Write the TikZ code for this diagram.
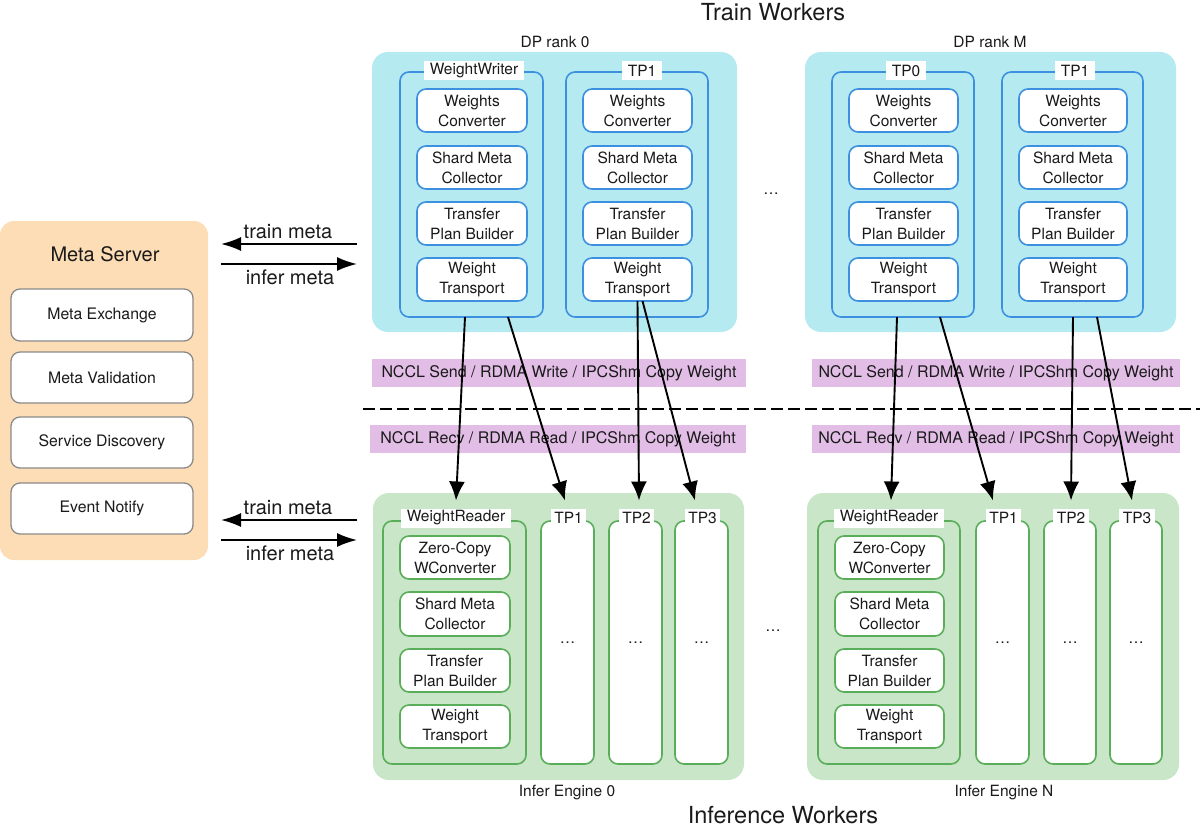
\documentclass[tikz,border=0pt]{standalone}
\usepackage{fontspec}
\setmainfont{TeX Gyre Heros}
\usetikzlibrary{arrows.meta}
\definecolor{cyanbg}{HTML}{B5EBF0}
\definecolor{blueb}{HTML}{3D8FE0}
\definecolor{greenbg}{HTML}{C9E7C8}
\definecolor{greenb}{HTML}{5AAE5A}
\definecolor{orangebg}{HTML}{FDDDB5}
\definecolor{purplebg}{HTML}{E2BDE6}
\definecolor{grayb}{HTML}{8A8A8A}
\definecolor{txt}{HTML}{1A1A1A}
\newcommand{\fsub}{\fontsize{15.5}{20}\selectfont}
\newcommand{\fmeta}{\fontsize{15.8}{18}\selectfont}
\newcommand{\fbig}{\fontsize{20}{22}\selectfont}
\newcommand{\ftitle}{\fontsize{23.5}{26}\selectfont}
\newcommand{\fbar}{\fontsize{16}{19}\selectfont}
\newcommand{\bxn}[7]{\node[#2, minimum width={(#5)-(#3)}, minimum height={(#6)-(#4)}, anchor=north west] (#1) at ({#3},{#4}) {#7};}
\begin{document}
\begin{tikzpicture}[x=1pt,y=-1pt,
  base/.style={inner sep=0pt, outer sep=0pt, text=txt, align=center},
  trainouter/.style={base, fill=cyanbg, rounded corners=16pt},
  traininner/.style={base, draw=blueb, line width=1.6pt, rounded corners=9pt},
  trainsub/.style={base, draw=blueb, fill=white, line width=1.6pt, rounded corners=9pt, font=\fsub},
  inferouter/.style={base, fill=greenbg, rounded corners=16pt},
  inferinner/.style={base, draw=greenb, line width=1.6pt, rounded corners=9pt},
  infersub/.style={base, draw=greenb, fill=white, line width=1.6pt, rounded corners=9pt, font=\fsub},
  metaouter/.style={base, fill=orangebg, rounded corners=14pt},
  metasub/.style={base, draw=grayb, fill=white, line width=1.3pt, rounded corners=9pt, font=\fmeta},
  tablabel/.style={base, fill=white, inner xsep=5.5pt, minimum height=19pt, font=\fsub},
  barbox/.style={base, fill=purplebg, font=\fbar},
  plain/.style={base, font=\fsub},
  xfer/.style={draw=black, line width=1.9pt, -{Latex[length=19pt,width=16pt]}},
  metaarrow/.style={draw=black, line width=1.9pt, -{Latex[length=20pt,width=14pt]}},
  divider/.style={draw=black, line width=2.2pt, dash pattern=on 12pt off 5pt}
]
\useasboundingbox (0,0) rectangle (1200,832);

% titles
\node[base, font=\ftitle] (traintitle) at (773,12) {Train Workers};
\node[base, font=\ftitle] (infertitle) at (783,815) {Inference Workers};
\node[plain] (dp0cap) at (555,42) {DP rank 0};
\node[plain] (dpmcap) at (990,42) {DP rank M};
\node[plain] (ie0cap) at (567,793) {Infer Engine 0};
\node[plain] (ienCap) at (1004,793) {Infer Engine N};
\node[plain] (dotsA) at (771,194) {…};
\node[plain] (dotsB) at (773,631) {…};

% train outer boxes
\bxn{dp0}{trainouter}{372}{52}{737}{332}{}
\bxn{dpm}{trainouter}{805}{52}{1176}{332}{}

% train inner columns
\foreach \nm/\xa/\xb/\lab/\lx in {dpaw/400/543/WeightWriter/474, dpat/566/708/TP1/642, dpmt/832/974/TP0/906, dpmu/1002/1143/TP1/1075} {
  \bxn{\nm}{traininner}{\xa}{72}{\xb}{317}{}
  \foreach \i/\ya/\yb/\t in {1/89/132/{Weights\\Converter}, 2/146/189/{Shard Meta\\Collector}, 3/202/245/{Transfer\\Plan Builder}, 4/258/301/{Weight\\Transport}} {
    \bxn{\nm-\i}{trainsub}{\xa+17}{\ya}{\xb-16}{\yb}{\t}
  }
  \node[tablabel] (\nm-lab) at (\lx,71) {\lab};
}

% infer outer boxes
\bxn{ie0}{inferouter}{373}{493}{744}{780}{}
\bxn{ien}{inferouter}{807}{493}{1179}{780}{}

% weight reader columns
\foreach \nm/\xa/\xb/\lx in {wr0/383/526/456, wrn/818/960/889} {
  \bxn{\nm}{inferinner}{\xa}{521}{\xb}{764}{}
  \foreach \i/\ya/\yb/\t in {1/536/579/{Zero-Copy\\WConverter}, 2/592/636/{Shard Meta\\Collector}, 3/649/692/{Transfer\\Plan Builder}, 4/705/748/{Weight\\Transport}} {
    \bxn{\nm-\i}{infersub}{\xa+17}{\ya}{\xb-16}{\yb}{\t}
  }
  \node[tablabel] (\nm-lab) at (\lx,518) {WeightReader};
}

% infer TP columns
\foreach \nm/\xa/\xb/\lab in {e0a/541/594/TP1, e0b/609/662/TP2, e0c/675/728/TP3, ena/976/1029/TP1, enb/1044/1096/TP2, enc/1110/1162/TP3} {
  \bxn{\nm}{infersub}{\xa}{521}{\xb}{764}{…}
  \node[tablabel, inner xsep=3.5pt] (\nm-lab) at ({(\xa+\xb)/2+1},518) {\lab};
}

% meta server
\bxn{meta}{metaouter}{0}{221}{208}{560}{}
\node[base, font=\fbig] (metatitle) at (105,254) {Meta Server};
\bxn{mx}{metasub}{11}{289}{193}{341}{Meta Exchange}
\bxn{mv}{metasub}{11}{352}{193}{403}{Meta Validation}
\bxn{msd}{metasub}{11}{417}{193}{468}{Service Discovery}
\bxn{men}{metasub}{11}{483}{193}{534}{Event Notify}

% meta arrows
\coordinate (mtR1) at (357,244);
\coordinate (mtL1) at (221,244);
\coordinate (miL1) at (221,264);
\coordinate (miR1) at (357,264);
\coordinate (mtR2) at (357,520);
\coordinate (mtL2) at (221,520);
\coordinate (miL2) at (221,540);
\coordinate (miR2) at (357,540);
\draw[metaarrow] (mtR1) -- (mtL1);
\draw[metaarrow] (miL1) -- (miR1);
\draw[metaarrow] (mtR2) -- (mtL2);
\draw[metaarrow] (miL2) -- (miR2);
\node[base, font=\fbig] (tmlab1) at (288,232) {train meta};
\node[base, font=\fbig] (imlab1) at (290,277) {infer meta};
\node[base, font=\fbig] (tmlab2) at (288,508) {train meta};
\node[base, font=\fbig] (imlab2) at (290,553) {infer meta};

% purple bars
\bxn{send0}{barbox}{372}{359}{746}{387}{NCCL Send / RDMA Write / IPCShm Copy Weight}
\bxn{sendm}{barbox}{812}{359}{1180}{387}{NCCL Send / RDMA Write / IPCShm Copy Weight}
\bxn{recv0}{barbox}{370}{425}{746}{453}{NCCL Recv / RDMA Read / IPCShm Copy Weight}
\bxn{recvm}{barbox}{812}{425}{1180}{453}{NCCL Recv / RDMA Read / IPCShm Copy Weight}

% divider
\coordinate (divL) at (363,409);
\coordinate (divR) at (1200,409);
\draw[divider] (divL) -- (divR);

% transfer arrows
\draw[xfer] ([xshift=-6.5pt]dpaw.south) -- ([yshift=8pt]wr0-lab.north);
\draw[xfer] ([xshift=36.5pt]dpaw.south) -- ([xshift=-3.5pt,yshift=8pt]e0a-lab.north);
\draw[xfer] (dpat-4.south) -- ([xshift=2.5pt,yshift=8pt]e0b-lab.north);
\draw[xfer] ([xshift=5pt]dpat-4.south) -- ([xshift=-7.5pt,yshift=8pt]e0c-lab.north);
\draw[xfer] ([xshift=-6pt]dpmt.south) -- ([xshift=2pt,yshift=8pt]wrn-lab.north);
\draw[xfer] ([xshift=37pt]dpmt.south) -- ([xshift=-10.5pt,yshift=8pt]ena-lab.north);
\draw[xfer] ([xshift=0.5pt]dpmu.south) -- ([yshift=8pt]enb-lab.north);
\draw[xfer] ([xshift=24.5pt]dpmu.south) -- ([xshift=-5pt,yshift=8pt]enc-lab.north);
\end{tikzpicture}
\end{document}
